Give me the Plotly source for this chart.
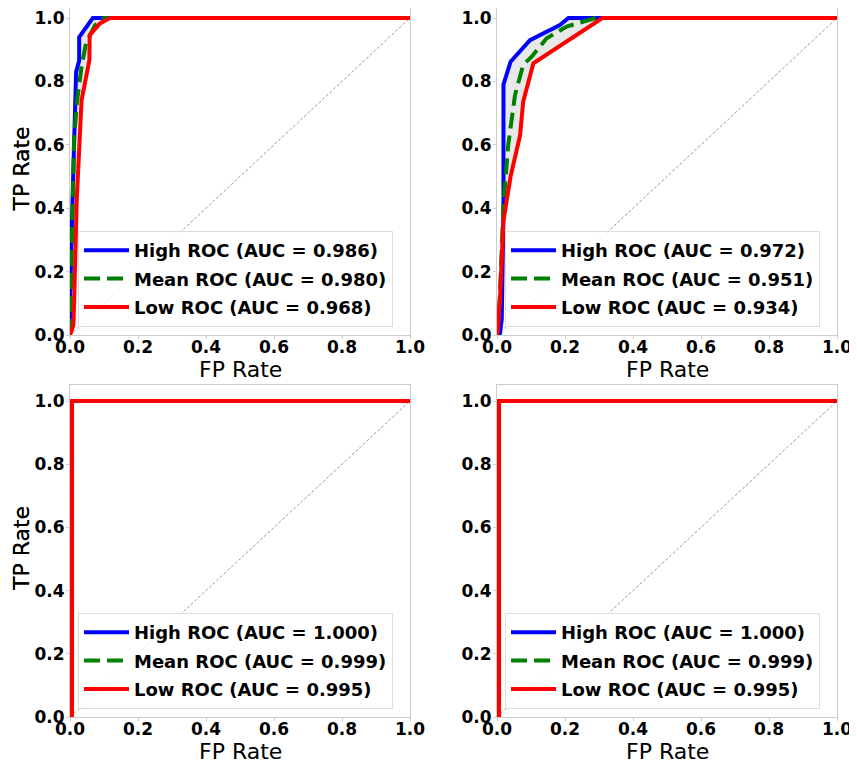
import plotly.graph_objects as go

# ---------------- data ----------------
# Panel 1 (top-left)
p1_high_fp = [0, 0, 0.008, 0.015, 0.018, 0.027, 0.027, 0.067, 1.0]
p1_high_tp = [0, 0.1, 0.45, 0.74, 0.83, 0.865, 0.94, 1.0, 1.0]
p1_mean_fp = [0, 0.003, 0.007, 0.012, 0.021, 0.034, 0.047, 0.074, 0.1, 1.0]
p1_mean_tp = [0, 0.15, 0.45, 0.62, 0.74, 0.846, 0.92, 0.978, 1.0, 1.0]
p1_low_fp = [0, 0.01, 0.012, 0.02, 0.034, 0.057, 0.058, 0.088, 0.118, 1.0]
p1_low_tp = [0, 0.03, 0.1, 0.43, 0.74, 0.867, 0.946, 0.983, 1.0, 1.0]
p1_auc = ["0.986", "0.980", "0.968"]

# Panel 2 (top-right)
p2_high_fp = [0, 0.009, 0.014, 0.019, 0.019, 0.04, 0.097, 0.185, 0.21, 1.0]
p2_high_tp = [0, 0.006, 0.05, 0.4, 0.79, 0.862, 0.93, 0.978, 1.0, 1.0]
p2_mean_fp = [0, 0.005, 0.009, 0.019, 0.033, 0.053, 0.077, 0.102, 0.146, 0.205, 0.29, 1.0]
p2_mean_tp = [0, 0.05, 0.14, 0.41, 0.6, 0.757, 0.852, 0.878, 0.936, 0.973, 1.0, 1.0]
p2_low_fp = [0, 0.003, 0.009, 0.019, 0.04, 0.068, 0.077, 0.107, 0.31, 1.0]
p2_low_tp = [0, 0.03, 0.12, 0.36, 0.5, 0.63, 0.736, 0.857, 1.0, 1.0]
p2_auc = ["0.972", "0.951", "0.934"]

# Panel 3 (bottom-left)
p3_high_fp = [0, 0, 1.0]
p3_high_tp = [0, 1.0, 1.0]
p3_mean_fp = [0, 0.003, 0.003, 1.0]
p3_mean_tp = [0, 0, 1.0, 1.0]
p3_low_fp = [0, 0.006, 0.006, 1.0]
p3_low_tp = [0, 0, 1.0, 1.0]
p3_auc = ["1.000", "0.999", "0.995"]

# Panel 4 (bottom-right)
p4_high_fp = [0, 0, 1.0]
p4_high_tp = [0, 1.0, 1.0]
p4_mean_fp = [0, 0.003, 0.003, 1.0]
p4_mean_tp = [0, 0, 1.0, 1.0]
p4_low_fp = [0, 0.006, 0.006, 1.0]
p4_low_tp = [0, 0, 1.0, 1.0]
p4_auc = ["1.000", "0.999", "0.995"]

tick_vals = [0.0, 0.2, 0.4, 0.6, 0.8, 1.0]
tick_text = ["0.0", "0.2", "0.4", "0.6", "0.8", "1.0"]
series_names = ["High ROC", "Mean ROC", "Low ROC"]
x_title = "FP Rate"
y_title = "TP Rate"

panels = [
    (p1_high_fp, p1_high_tp, p1_mean_fp, p1_mean_tp, p1_low_fp, p1_low_tp, p1_auc),
    (p2_high_fp, p2_high_tp, p2_mean_fp, p2_mean_tp, p2_low_fp, p2_low_tp, p2_auc),
    (p3_high_fp, p3_high_tp, p3_mean_fp, p3_mean_tp, p3_low_fp, p3_low_tp, p3_auc),
    (p4_high_fp, p4_high_tp, p4_mean_fp, p4_mean_tp, p4_low_fp, p4_low_tp, p4_auc),
]

# ---------------- layout geometry ----------------
# The page body has an 8px margin, so the figure is drawn 8px in from the window edge.
OFF = 8
W, H = 857 - OFF, 765 - OFF


def px2x(px):
    return (px - OFF) / W


def py2y(py):
    return 1 - (py - OFF) / H


col_px = [(70, 410), (497, 837)]
# (frame top, y=1.0 position, y=0 position)
row_px = [(8, 18, 335), (385, 401, 717)]

FONT = "DejaVu Sans"
fig = go.Figure()

layout = dict(
    width=W, height=H,
    margin=dict(l=0, r=0, t=0, b=0, autoexpand=False),
    paper_bgcolor="white", plot_bgcolor="white",
    font=dict(family=FONT, color="black"),
)
annotations = []

for i, (hfp, htp, mfp, mtp, lfp, ltp, auc) in enumerate(panels):
    r, c = divmod(i, 2)
    n = "" if i == 0 else str(i + 1)
    xa, ya = "x" + n, "y" + n
    lg = "legend" + n
    x0, x1 = col_px[c]
    ytop, yone, yzero = row_px[r]
    ymax = 1 + (yone - ytop) / (yzero - yone)

    # diagonal chance line
    fig.add_trace(go.Scatter(x=[0, 1], y=[0, 1], mode="lines",
                             line=dict(color="#9a9a9a", width=1, dash="3px,2px"),
                             showlegend=False, hoverinfo="skip", xaxis=xa, yaxis=ya))
    # band between high and low
    fig.add_trace(go.Scatter(x=list(hfp) + list(lfp)[::-1], y=list(htp) + list(ltp)[::-1],
                             mode="lines", fill="toself", fillcolor="rgba(190,190,190,0.35)",
                             line=dict(width=0), showlegend=False, hoverinfo="skip",
                             xaxis=xa, yaxis=ya))
    styles = [dict(color="blue", width=4),
              dict(color="green", width=4, dash="16px,7px"),
              dict(color="red", width=4)]
    for k, (fx, fy) in enumerate([(hfp, htp), (mfp, mtp), (lfp, ltp)]):
        fig.add_trace(go.Scatter(x=fx, y=fy, mode="lines", line=styles[k],
                                 name=f"{series_names[k]} (AUC = {auc[k]})",
                                 legend=lg, legendgroup=f"g{i}_{k}",
                                 xaxis=xa, yaxis=ya))

    axis_common = dict(
        showgrid=False, zeroline=False, automargin=False,
        showline=True, mirror=True, linecolor="#cccccc", linewidth=1,
        ticks="outside", ticklen=3, tickcolor="#cccccc",
        tickvals=tick_vals, ticktext=tick_text, ticklabeloverflow="allow",
        tickfont=dict(family=FONT, size=17, color="black", weight="bold"),
    )
    layout["xaxis" + n] = dict(
        axis_common, range=[0, 1], domain=[px2x(x0), px2x(x1)], anchor=ya,
        ticklabelstandoff=-6,
    )
    layout["yaxis" + n] = dict(
        axis_common, range=[0, ymax],
        domain=[max(0, py2y(yzero)), min(1, py2y(ytop))], anchor=xa,
        ticklabelstandoff=-2,
    )
    layout[lg] = dict(
        x=px2x(x0 + 8), y=py2y(yzero - 8), xanchor="left", yanchor="bottom",
        bgcolor="rgba(255,255,255,0.85)", bordercolor="#dddddd", borderwidth=1,
        font=dict(family=FONT, size=18, color="black", weight="bold"),
        traceorder="grouped", tracegroupgap=2, itemwidth=45,
    )
    annotations.append(dict(
        text=x_title, xref="paper", yref="paper",
        x=px2x((x0 + x1) / 2), y=py2y(yzero + 34), xanchor="center", yanchor="middle",
        showarrow=False, font=dict(family=FONT, size=22, color="black"),
    ))
    annotations.append(dict(
        text=y_title, xref="paper", yref="paper", textangle=-90,
        x=px2x(21), y=py2y((ytop + yzero) / 2 - 2), xanchor="center", yanchor="middle",
        showarrow=False, font=dict(family=FONT, size=22, color="black"),
    ))

layout["annotations"] = annotations
fig.update_layout(**layout)
fig.write_html("out.html")
